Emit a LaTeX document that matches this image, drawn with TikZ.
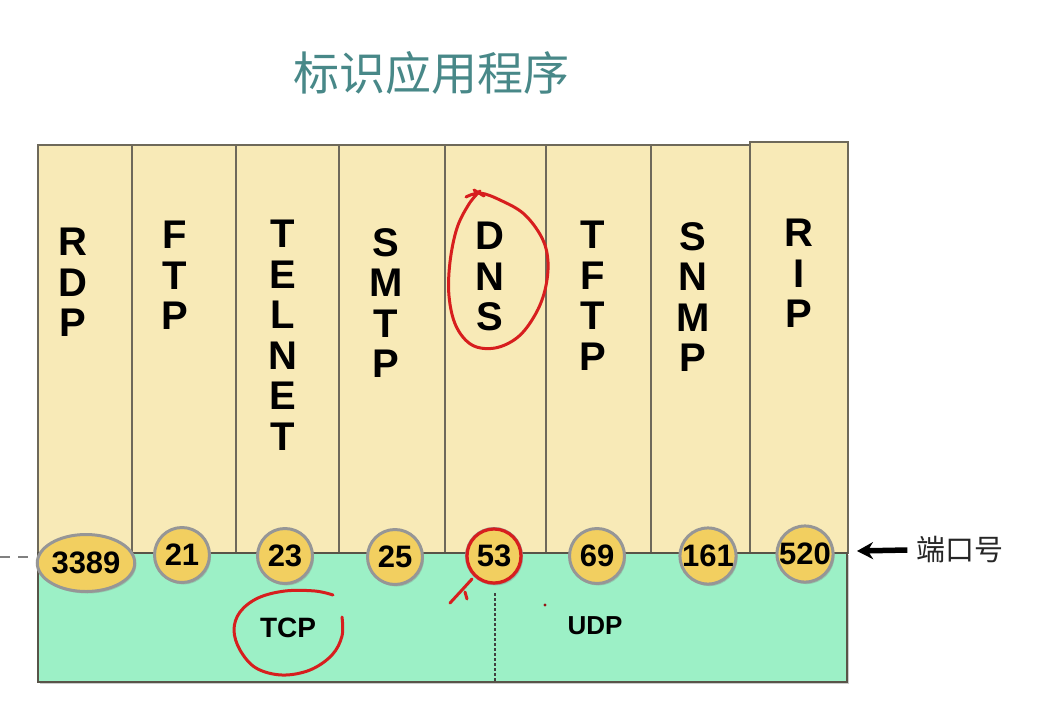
\documentclass[tikz,border=0pt]{standalone}
\usepackage{fontspec}
\setmainfont{Liberation Sans}
\newfontfamily\cjk{Noto Sans CJK SC}
\usetikzlibrary{shapes.geometric,shadows,arrows.meta}
\definecolor{colTan}{RGB}{248,234,183}
\definecolor{colGreen}{RGB}{156,240,198}
\definecolor{colGold}{RGB}{242,207,96}
\definecolor{colRim}{RGB}{150,150,150}
\definecolor{colLine}{RGB}{110,105,90}
\definecolor{colTitle}{RGB}{72,136,136}
\definecolor{colRed}{RGB}{215,30,30}
\tikzset{
  colbox/.style={fill=colTan, draw=colLine, line width=1.5pt},
  basebox/.style={fill=colGreen, draw=colLine!80!black, line width=1.5pt},
  lbl/.style={anchor=north, align=center, inner sep=0pt, font=\fontsize{40}{40.5}\selectfont\bfseries},
  port/.style={circle, fill=colGold, draw=colRim, line width=3pt, minimum size=55pt, inner sep=0pt,
    font=\fontsize{31}{31}\selectfont\bfseries,
    drop shadow={shadow xshift=1.5pt, shadow yshift=-2pt, opacity=0.35}},
  proto/.style={font=\fontsize{28}{28}\selectfont\bfseries, inner sep=0pt},
  redink/.style={draw=colRed, line width=3pt, line cap=round, line join=round},
}
\begin{document}
\begin{tikzpicture}[x=1pt,y=-1pt]
\useasboundingbox (0,0) rectangle (1044,702);
\fill[white] (0,0) rectangle (1044,702);

% title
\node[font=\fontsize{46}{46}\selectfont, text=colTitle, inner sep=0pt] (title) at (431,73) {\cjk 标识应用程序};

% application columns
\foreach \a/\b in {38/132,132/236,236/339,339/445,445/546,546/651,651/750}
  \draw[colbox] (\a,145) rectangle (\b,553);
\draw[colbox] (750,142) rectangle (848,553);

% transport base
\draw[basebox, drop shadow={shadow xshift=1.5pt, shadow yshift=-1.5pt, opacity=0.4}] (38,553) rectangle (847,682);

% column labels
\node[lbl] (rdp)    at (73,228)  {R\\D\\P};
\node[lbl] (ftp)    at (175,221) {F\\T\\P};
\node[lbl] (telnet) at (283,220) {T\\E\\L\\N\\E\\T};
\node[lbl] (smtp)   at (386,228) {S\\M\\T\\P};
\node[lbl] (dns)    at (490,222) {D\\N\\S};
\node[lbl] (tftp)   at (593,221) {T\\F\\T\\P};
\node[lbl] (snmp)   at (693,222) {S\\N\\M\\P};
\node[lbl] (rip)    at (799,219) {R\\I\\P};

% dotted TCP/UDP divider and dashed lead-in
\coordinate (dl) at (0,557);
\coordinate (ubot) at (495,682);
\coordinate (utop) at (495,593);
\draw[line width=2.5pt, black!75, dash pattern=on 2.5pt off 2.5pt] (utop) -- (ubot);

% port numbers
\node[port, ellipse, minimum width=95pt, minimum height=57pt] (p3389) at (86,563) {3389};
\draw[gray, line width=1.2pt, dash pattern=on 10pt off 8pt] (dl) -- (dl -| p3389.west);
\node[port] (p21)  at (182,555) {21};
\node[port] (p23)  at (285,556) {23};
\node[port] (p25)  at (395,557) {25};
\node[port] (p53)  at (494,556) {53};
\node[port] (p69)  at (597,556) {69};
\node[port] (p161) at (708,556) {161};
\node[port] (p520) at (805,554) {520};

% protocol labels
\node[proto] (tcp) at (288,628) {TCP};
\node[proto, font=\fontsize{26}{26}\selectfont\bfseries] (udp) at (595,626) {UDP};

% port label + arrow
\node[font=\fontsize{29}{29}\selectfont, text=black!85, inner sep=0pt] (plabel) at (960,550) {\cjk 端口号};
\coordinate (atip) at (857,551);
\draw[-{Stealth[length=16pt,width=17pt]}, line width=5.5pt] ([xshift=-9pt]plabel.west) -- (atip);

% red hand annotations
\draw[redink] plot[smooth, tension=0.6] coordinates {(466,197) (480,193) (500,200) (524,214) (542,238) (548,262) (545,290) (535,315) (518,337) (495,348) (472,345) (456,326) (449,296) (450,262) (457,228) (469,204) (480,191)};
\draw[redink] (474,190) -- (484,196);
\draw[redink, line width=3.2pt] (p53.center) circle[radius=27pt];
\draw[redink] (472,579) -- (462,590) -- (450,603);
\draw[redink] (465,592) -- (467,599);
\fill[colRed!70!black] (545,605) circle[radius=1.6pt];
\draw[redink] plot[smooth, tension=0.6] coordinates {(342,617) (342,636) (332,655) (310,670) (282,675) (256,668) (240,650) (234,630) (240,612) (258,598) (285,591) (315,591) (333,595)};
\end{tikzpicture}
\end{document}
